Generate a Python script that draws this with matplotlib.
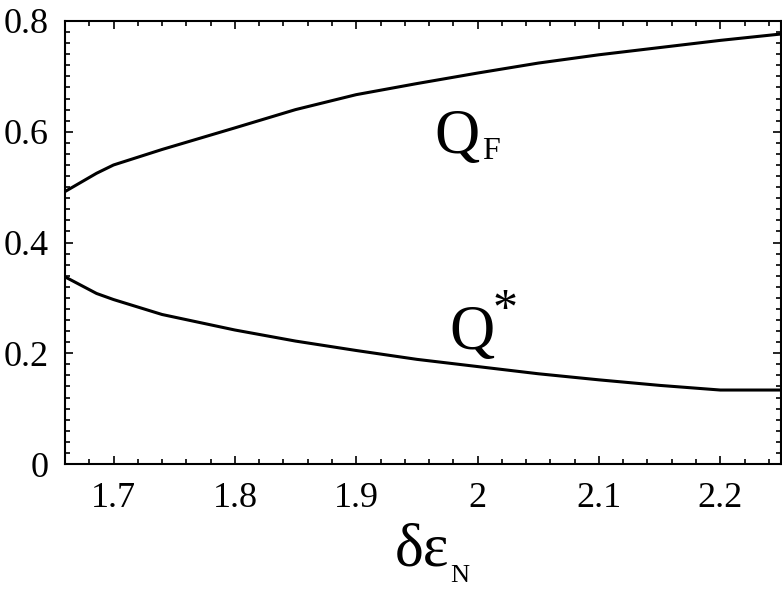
import numpy as np
import matplotlib.pyplot as plt
from matplotlib.ticker import MultipleLocator

plt.rcParams['font.family'] = ['Liberation Serif', 'DejaVu Serif']

# values
d_eps = [1.66, 1.686, 1.70, 1.74, 1.80, 1.85, 1.90, 1.95, 2.00, 2.05, 2.10, 2.15, 2.20, 2.25]
q_f = [0.492, 0.525, 0.540, 0.568, 0.607, 0.640, 0.667, 0.687, 0.706, 0.724, 0.739, 0.752, 0.765, 0.7765]
q_star = [0.338, 0.308, 0.297, 0.270, 0.242, 0.222, 0.205, 0.189, 0.176, 0.163, 0.152, 0.142, 0.1336, 0.1336]
x_ticks = [1.7, 1.8, 1.9, 2.0, 2.1, 2.2]
x_tick_labels = ['1.7', '1.8', '1.9', '2', '2.1', '2.2']
y_ticks = [0, 0.2, 0.4, 0.6, 0.8]
y_tick_labels = ['0', '0.2', '0.4', '0.6', '0.8']

fig = plt.figure(figsize=(7.82, 5.93), dpi=100)
ax = fig.add_axes([0.0831, 0.2175, 0.9156, 0.7471])

ax.plot(d_eps, q_f, color='black', lw=2.2)
ax.plot(d_eps, q_star, color='black', lw=2.2)

ax.set_xlim(1.66, 2.25)
ax.set_ylim(0, 0.8)
ax.set_xticks(x_ticks)
ax.set_xticklabels(x_tick_labels)
ax.set_yticks(y_ticks)
ax.set_yticklabels(y_tick_labels)
ax.xaxis.set_minor_locator(MultipleLocator(0.02))
ax.yaxis.set_minor_locator(MultipleLocator(0.02))
ax.tick_params(which='both', direction='in', top=True, right=True, labelsize=26, width=1.2)
ax.tick_params(axis='x', which='major', length=6, pad=13)
ax.tick_params(axis='y', which='major', length=6, pad=12)
ax.tick_params(which='minor', length=3.5)
for s in ax.spines.values():
    s.set_linewidth(1.5)

# curve labels
ax.text(1.964, 0.5616, 'Q', fontsize=45, va='baseline', ha='left')
ax.text(2.004, 0.551, 'F', fontsize=23, va='baseline', ha='left')
ax.text(1.977, 0.2077, 'Q', fontsize=45, va='baseline', ha='left')
ax.text(2.012, 0.318, '*', fontsize=36, va='top', ha='left')

# axis label
fig.text(395 / 782, 1 - 565 / 593, 'δε', fontsize=44, va='baseline', ha='left')
fig.text(450 / 782, 1 - 582 / 593, 'N', fontsize=19, va='baseline', ha='left')

fig.savefig('out.png', dpi=100)
